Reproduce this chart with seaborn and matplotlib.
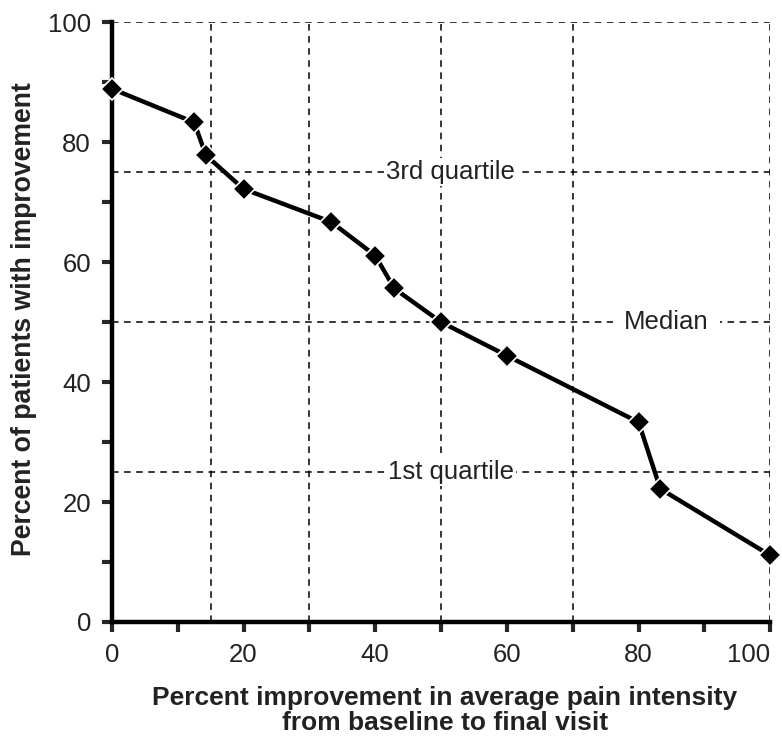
import matplotlib
matplotlib.use('Agg')
import matplotlib.pyplot as plt
import seaborn as sns
import pandas as pd
from matplotlib.ticker import MultipleLocator

# values
improvement = [0, 12.5, 14.3, 20, 33.3, 40, 42.9, 50, 60, 80, 83.3, 100]
patients = [88.9, 83.3, 77.8, 72.2, 66.7, 61.1, 55.6, 50.0, 44.4, 33.3, 22.2, 11.1]
grid_x = [15, 30, 50, 70, 100]
grid_y = [25, 50, 75, 100]
ticks = [0, 20, 40, 60, 80, 100]
tick_labels = ['0', '20', '40', '60', '80', '100']
quartile_labels = ['1st quartile', 'Median', '3rd quartile']
quartile_vals = [25, 50, 75]
label_x = [51.5, 84.2, 51.4]

sns.set_style('ticks')
plt.rcParams['font.family'] = ['Liberation Sans', 'DejaVu Sans']

df = pd.DataFrame({'improvement': improvement, 'patients': patients})

fig = plt.figure(figsize=(7.82, 7.4), dpi=100)
ax = fig.add_axes([0.143, 0.1595, 0.842, 0.8105])

for gx in grid_x:
    ax.axvline(gx, color='black', lw=1.1, ls=(0, (4.3, 3.6)), zorder=1)
for gy in grid_y:
    ax.axhline(gy, color='black', lw=1.1, ls=(0, (4.3, 3.6)), zorder=1)

for txt, yv, xv in zip(quartile_labels, quartile_vals, label_x):
    pad = 8 if txt == 'Median' else 1.5
    ax.text(xv, yv, txt, ha='center', va='center', fontsize=18.5, color='#222222',
            bbox=dict(facecolor='white', edgecolor='none', pad=pad), zorder=2)

sns.lineplot(data=df, x='improvement', y='patients', ax=ax, color='black',
             lw=3.2, marker='D', markersize=11, markeredgecolor='white',
             markeredgewidth=1.2, zorder=3, clip_on=False)

ax.set_xlim(0, 100)
ax.set_ylim(0, 100)
ax.set_xticks(ticks, tick_labels)
ax.set_yticks(ticks, tick_labels)
ax.xaxis.set_minor_locator(MultipleLocator(10))
ax.yaxis.set_minor_locator(MultipleLocator(10))
ax.tick_params(which='both', direction='out', width=3, length=7, labelsize=18.5,
               labelcolor='#222222', pad=8)

sns.despine(ax=ax)
for side in ['left', 'bottom']:
    ax.spines[side].set_linewidth(3.2)
    ax.spines[side].set_color('black')

ax.set_xlabel('Percent improvement in average pain intensity\nfrom baseline to final visit',
              fontsize=19, fontweight='bold', color='#222222', linespacing=1.05,
              va='center')
ax.xaxis.set_label_coords(0.506, -0.147)
ax.set_ylabel('Percent of patients with improvement', fontsize=19.2, fontweight='bold',
              color='#222222', va='center')
ax.yaxis.set_label_coords(-0.134, 0.505)

# keep the last x tick label inside the figure
for lbl in ax.get_xticklabels():
    if lbl.get_text() == '100':
        lbl.set_horizontalalignment('right')

fig.savefig('out.png', dpi=100)
